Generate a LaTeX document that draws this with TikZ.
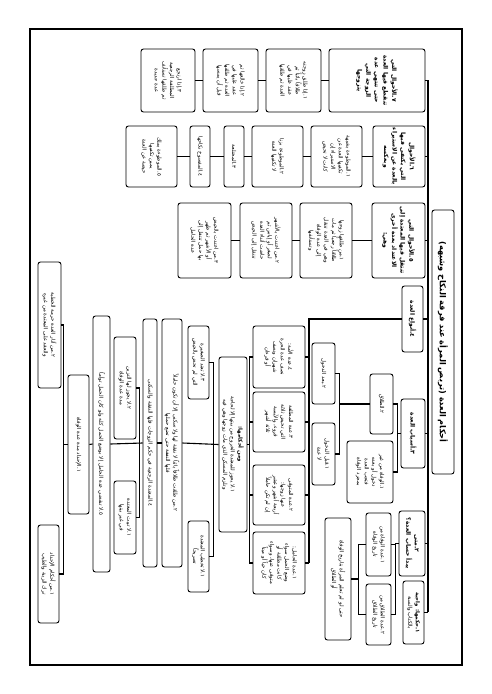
\documentclass[tikz,border=0pt]{standalone}
\usepackage{fontspec}
\TeXXeTstate=1
\newfontfamily\arabicfont[Script=Arabic]{DejaVu Sans}
\newcommand{\arl}[1]{\beginR #1\endR}
\newcommand{\Bx}[7][]{\node[bx,minimum width={(#6-#5)*1pt},minimum height={(#4-#3)*1pt},#1] (#2) at ({(#3+#4)/2},{-(#5+#6)/2}) {#7};}
\tikzset{
 bx/.style={draw=black, line width=0.9pt, rounded corners=2.5pt, fill=white, rotate=-90, inner sep=0.8pt, align=center, font=\arabicfont\fontsize{5.4}{7.6}\selectfont},
 hd/.style={font=\arabicfont\bfseries\fontsize{6}{8.6}\selectfont},
 tt/.style={font=\arabicfont\bfseries\fontsize{8.2}{9}\selectfont},
 ln/.style={line width=1.1pt, black},
}
\begin{document}
\begin{tikzpicture}[x=1pt,y=1pt]
\useasboundingbox (0,0) rectangle (491,-694);
\draw[line width=1.1pt] (30,-29) rectangle (462,-665);
% title
\Bx[tt]{title}{432}{454}{210}{474}{\arl{أحكام العدة (تربص المرأة عند فرقة النكاح وشبهه)}}
% trunk
\coordinate (tA) at (428,-80);
\coordinate (tB) at (428,-612);
\draw[ln] (tA) -- (tB);
% level 1
\Bx[hd]{L7}{329}{425}{49}{112}{\arl{٧.الأحوال التي}\\\arl{تنقطع فيها العدة}\\\arl{حتى تنتهي عدة}\\\arl{الزوجة التي}\\\arl{يتزوجها}}
\Bx[hd]{L6}{373}{425}{126}{187}{\arl{٦.الأحوال}\\\arl{التي يكتفى فيها}\\\arl{بالعدة عن الاستبراء}\\\arl{وبعكسه}}
\Bx[hd]{L5}{372}{425}{203}{278}{\arl{٥.الأحوال التي}\\\arl{تنتقل فيها المعتدة إلى}\\\arl{الاعتداد بعدة أخرى}\\\arl{وهي:}}
\Bx[hd]{L4}{402}{423}{286}{352}{\arl{٤.أنواع العدة}}
\Bx[hd]{L3}{401}{425}{399}{468}{\arl{٣.أسباب العدة}}
\Bx[hd]{L2}{399}{425}{511}{576}{\arl{٢.متى}\\\arl{يبدأ حساب العدة؟}}
\Bx{L1}{403}{424}{581}{644}{\arl{\bfseries ١.حكمها: واجبة}\\\arl{بالكتاب والسنة}}
\foreach \n in {L7,L6,L5,L4,L3,L2,L1} \draw[ln] (\n.north) -- (tA |- \n.north);
% row 7
\Bx{C7a}{266}{321}{49}{112}{\arl{١.إذا طلق زوجته}\\\arl{طلاقاً بائناً ثم}\\\arl{عقد عليها في}\\\arl{العدة ثم طلقها}}
\Bx{C7b}{203}{258}{49}{112}{\arl{٢.إذا خالعها ثم}\\\arl{عقد عليها في}\\\arl{العدة ثم طلقها}\\\arl{قبل أن يمسها}}
\Bx{C7c}{141}{195}{49}{112}{\arl{٣.إذا ارتجع}\\\arl{المطلقة الرجعية}\\\arl{ثم طلقها تستأنف}\\\arl{عدة جديدة}}
\draw[ln] (L7.south) -- (C7a.north) (C7a.south) -- (C7b.north) (C7b.south) -- (C7c.north);
% row 6
\Bx{C6a}{311}{362}{126}{187}{\arl{١.الموطوءة بشبهة}\\\arl{تكفيها العدة عن}\\\arl{الاستبراء إن}\\\arl{كانت لا تحيض}}
\Bx{C6b}{252}{303}{126}{187}{\arl{٢.الموطوءة بزنا}\\\arl{لا تكفيها العدة}}
\Bx{C6c}{224}{244}{126}{187}{\arl{٣.المختلعة}}
\Bx{C6d}{190}{210}{126}{187}{\arl{٤.المفسوخ نكاحها}}
\Bx{C6e}{126}{177}{126}{187}{\arl{٥.الموطوءة بملك}\\\arl{يمين تكفيها}\\\arl{حيضة عن العدة}}
\draw[ln] (L6.south) -- (C6a.north) (C6a.south) -- (C6b.north) (C6b.south) -- (C6c.north) (C6c.south) -- (C6d.north) (C6d.south) -- (C6e.north);
% row 5
\Bx{C5a}{300}{352}{203}{278}{\arl{١.من طلقها زوجها}\\\arl{طلاقاً رجعياً ثم مات}\\\arl{وهي في العدة تنتقل}\\\arl{إلى عدة الوفاة}\\\arl{وتستأنفها}}
\Bx{C5b}{240}{292}{203}{278}{\arl{٢.من اعتدت بالأشهر}\\\arl{لصغر أو إياس ثم}\\\arl{حاضت أثناء العدة}\\\arl{تنتقل إلى الحيض}}
\Bx{C5c}{178}{231}{203}{278}{\arl{٣.من اعتدت بالحيض}\\\arl{أو الأشهر ثم ظهر}\\\arl{بها حمل تنتقل إلى}\\\arl{عدة الحامل}}
\draw[ln] (L5.south) -- (C5a.north) (C5a.south) -- (C5b.north) (C5b.south) -- (C5c.north);
% row 4 : types
\coordinate (v4b) at (309,-563);
\draw[ln] (L4.south) -| (v4b);
\Bx{D1}{253}{305}{326}{388}{\arl{٤.عدة الأمة:}\\\arl{نصف عدة الحرة}\\\arl{شهران ونصف}\\\arl{أو قرءان}}
\Bx{D2}{253}{305}{392}{452}{\arl{٣.عدة المطلقة}\\\arl{التي تحيض ثلاثة}\\\arl{قروء، والآيسة}\\\arl{ثلاثة أشهر}}
\Bx{D3}{253}{305}{465}{525}{\arl{٢.عدة المتوفى}\\\arl{عنها زوجها:}\\\arl{أربعة أشهر وعشر}\\\arl{إن لم تكن حاملاً}}
\Bx{D4}{253}{305}{532}{594}{\arl{١.عدة الحامل:}\\\arl{وضع الحمل سواء}\\\arl{كانت مطلقة أو}\\\arl{متوفى عنها، وسواء}\\\arl{كان حياً أو ميتاً}}
\foreach \n in {D1,D2,D3,D4} \draw[ln] (\n.north) -- (v4b |- \n.north);
% row 3 : causes
\Bx{E1}{370}{393}{374}{434}{\arl{٢.الطلاق}}
\Bx{E2}{347}{393}{441}{503}{\arl{١.الوفاة من غير}\\\arl{دخول أو بعده}\\\arl{فتجب العدة}\\\arl{بمجرد الوفاة}}
\draw[ln] (E1.north) -- ++(4,0) |- (E2.north);
\draw[ln] (L3.south) -- ++(-4,0);
\Bx{F1}{312}{335}{343}{404}{\arl{٢.بعد الدخول}}
\Bx{F2}{312}{335}{423}{485}{\arl{١.قبل الدخول}\\\arl{لا عدة}}
\draw[ln] (F1.north) -- ++(4,0) |- (F2.north);
\draw[ln] (E1.south) -- ++(-31,0);
% row 2
\Bx{G1}{366}{391}{513}{576}{\arl{١.عدة الوفاة من}\\\arl{تاريخ الوفاة}}
\Bx{G2}{366}{391}{584}{645}{\arl{٢.عدة الطلاق من}\\\arl{تاريخ الطلاق}}
\draw[ln] (G1.north) -- ++(4,0) |- (G2.north);
\draw[ln] (L2.south) -- ++(-4,0);
\Bx{H}{325}{351}{518}{640}{\arl{حتى لو لم تعلم المرأة بتاريخ الوفاة}\\\arl{أو الطلاق}}
\draw[ln] (G1.south) -- ++(-7,0) |- (G2.south);
\draw[ln] (H.north) -- ++(8,0);
% left subtree
\Bx{K}{219}{247}{357}{532}{\arl{\bfseries ومن أحكامها:}\\\arl{١.لا يجوز للمعتدة الخروج من بيتها إلا لحاجة}\\\arl{وتلزم المسكن الذي مات زوجها وهي فيه}}
\draw[ln] (D1.south) -- ++(-3,0) |- (D4.south);
\draw[ln] (D2.south) -- ++(-3,0) (D3.south) -- ++(-3,0);
\draw[ln] (K.north) -- ++(3,0);
\Bx{S1}{188}{209}{326}{399}{\arl{٣.لا تعتد الصغيرة}\\\arl{التي لم تحض بالحيض}}
\Bx{S2}{188}{209}{521}{592}{\arl{١.لا تخطب المعتدة}\\\arl{تصريحاً}}
\draw[ln] (S1.north) -- ++(4,0) |- (S2.north);
\Bx{B1}{162}{182}{319}{567}{\arl{٢.من طلقت طلاقاً بائناً لا نفقة لها ولا سكنى إلا أن تكون حاملاً}\\\arl{فلها النفقة حتى تضع حملها}}
\draw[ln] (K.south) -- (B1.north);
\Bx{B2}{143}{157}{319}{567}{\arl{٤.المعتدة الرجعية في حكم الزوجات فلها النفقة والسكنى}}
\draw[ln] (B1.south) -- (B2.north);
\Bx{S3}{114}{136}{337}{439}{\arl{٢.لا يجوز لها التزين}\\\arl{مدة عدة الوفاة}}
\Bx{S4}{114}{136}{481}{554}{\arl{١.لا تبيت المعتدة}\\\arl{في غير بيتها}}
\draw[ln] (S3.north) -- ++(3,0) |- (S4.north);
\Bx{B3}{93}{110}{316}{572}{\arl{٥.لا تنقضي عدة الحامل إلا بوضع الحمل كله ولو كان الحمل توأماً}}
\draw[ln] (B2.south) -- (B3.north);
\Bx{N}{68}{89}{375}{514}{\arl{١.الإحداد مدة عدة الوفاة}}
\draw[ln] (B3.south) -- (N.north);
\Bx{P1}{38}{61}{262}{388}{\arl{٢.من آثار العدة حرمة الخطبة}\\\arl{والعقد على المعتدة من غيره}}
\Bx{P2}{38}{59}{525}{623}{\arl{١.من أحكام الإحداد}\\\arl{ترك الزينة والطيب}}
\draw[ln] (P1.north) -- ++(2,0) |- (P2.north);
\draw[ln] (N.south) -- ++(-5,0);
\end{tikzpicture}
\end{document}
